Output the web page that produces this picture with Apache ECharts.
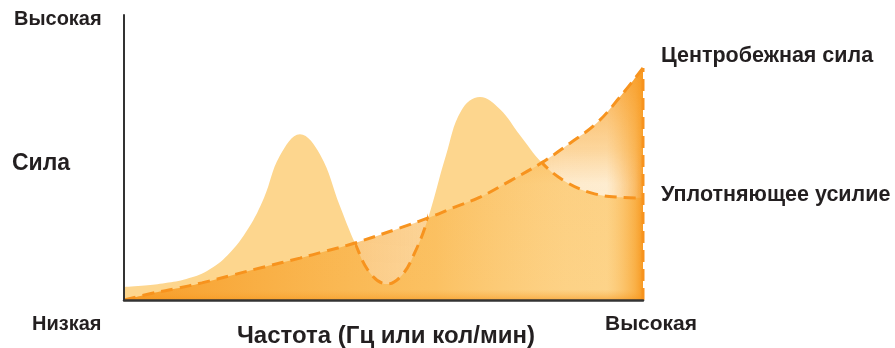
<!DOCTYPE html>
<html>
<head>
<meta charset="utf-8">
<script src="https://cdn.jsdelivr.net/npm/echarts@6/dist/echarts.min.js"></script>
<style>
  html, body { margin: 0; padding: 0; background: #fff; }
  #chart { width: 895px; height: 348px; }
</style>
</head>
<body>
<div id="chart"></div>
<script>
// Frequency (relative units, low -> high) and force (relative units, low -> high)
const centrifugalForce = [
  [0, 0], [5, 2.2], [10, 4], [15, 6], [21, 8.8], [27, 11.6], [33.9, 14.7],
  [39, 17.2], [44.5, 20], [53.2, 25.3], [58.6, 28.8], [63.6, 32.5],
  [68.6, 36.1], [74.5, 41.9], [80.5, 48.2], [86, 55.1], [91.1, 62.1],
  [95.5, 71.1], [100, 81.4]
];
const sealingForce = [
  [0, 4.6], [4, 5.1], [8, 6], [12, 7.4], [16, 10.2], [20, 15.8], [24, 25.3],
  [27, 36], [30, 50.5], [33.9, 58.2], [37.8, 51], [41.6, 33], [44.5, 20],
  [47.4, 9.5], [50.7, 5.6], [53.5, 8.6], [56, 16.5], [58.6, 28.8],
  [62, 50.5], [65, 66.5], [68.6, 71.2], [72.4, 67], [76.3, 57.8],
  [80.5, 48.2], [85, 41.6], [90, 37.6], [95, 36.1], [100, 35.8]
];
// Frequency spans where the sealing force lies under the centrifugal force
const sealingBelowSpans = [[44.5, 58.6], [80.5, 100]];

const xTickLabels = ['Низкая', 'Высокая'];
const yTickLabels = ['Высокая'];
const xAxisTitle = 'Частота (Гц или кол/мин)';
const yAxisTitle = 'Сила';
const seriesNames = ['Центробежная сила', 'Уплотняющее усилие'];

const ORANGE = '#F7931E';
const FONT = '"Liberation Sans", Arial, Helvetica, sans-serif';
const SMOOTH = 0.4;
const lastCentrifugal = centrifugalForce[centrifugalForce.length - 1];

const chart = echarts.init(document.getElementById('chart'), null, { renderer: 'canvas' });

function txt(text, x, y, size) {
  return {
    type: 'text', left: x, top: y - size / 2 - 1,
    style: { text: text, font: 'bold ' + size + 'px ' + FONT, fill: '#231F20' }
  };
}

const dashed = { type: [12, 7], width: 3 };

chart.setOption({
  animation: false,
  grid: { left: 124, right: 252, top: 15, bottom: 48 },
  xAxis: {
    type: 'value', min: 0, max: 100, z: 10,
    axisLine: { show: true, lineStyle: { color: '#333', width: 2.5 } },
    axisTick: { show: false }, axisLabel: { show: false }, splitLine: { show: false }
  },
  yAxis: {
    type: 'value', min: 0, max: 100, z: 10,
    axisLine: { show: true, lineStyle: { color: '#333', width: 2 } },
    axisTick: { show: false }, axisLabel: { show: false }, splitLine: { show: false }
  },
  visualMap: {
    type: 'piecewise', show: false, seriesIndex: 3, dimension: 0,
    pieces: sealingBelowSpans.map(s => ({ gte: s[0], lte: s[1], color: ORANGE })),
    outOfRange: { color: 'rgba(247,147,30,0)' }
  },
  series: [
    {
      name: seriesNames[1], type: 'line', data: sealingForce, smooth: SMOOTH,
      showSymbol: false, silent: true, z: 1,
      lineStyle: { width: 0 },
      areaStyle: { color: '#FDD68E', opacity: 1 }
    },
    {
      name: seriesNames[0], type: 'line', data: centrifugalForce, smooth: SMOOTH,
      showSymbol: false, silent: true, z: 2,
      lineStyle: { width: 0 },
      areaStyle: {
        opacity: 1,
        color: new echarts.graphic.LinearGradient(0, 0, 1, 0, [
          { offset: 0, color: 'rgba(246,146,22,0.85)' },
          { offset: 0.3, color: 'rgba(247,158,35,0.65)' },
          { offset: 0.6, color: 'rgba(249,172,55,0.5)' },
          { offset: 0.85, color: 'rgba(252,200,115,0.3)' },
          { offset: 0.93, color: 'rgba(252,205,125,0.3)' },
          { offset: 0.985, color: 'rgba(248,160,40,0.7)' },
          { offset: 1, color: 'rgba(246,146,22,0.9)' }
        ])
      }
    },
    {
      name: seriesNames[0], type: 'line', data: centrifugalForce, smooth: SMOOTH,
      showSymbol: false, silent: true, z: 2,
      lineStyle: { width: 0 },
      areaStyle: {
        opacity: 1,
        color: new echarts.graphic.LinearGradient(0, 0, 0, 1, [
          { offset: 0, color: 'rgba(248,150,25,0.75)' },
          { offset: 0.35, color: 'rgba(249,165,45,0.35)' },
          { offset: 0.5, color: 'rgba(250,170,60,0.05)' },
          { offset: 0.955, color: 'rgba(250,170,60,0)' },
          { offset: 1, color: 'rgba(246,146,22,0.55)' }
        ])
      }
    },
    {
      name: seriesNames[1], type: 'line', data: sealingForce, smooth: SMOOTH,
      showSymbol: false, silent: true, z: 3,
      lineStyle: dashed
    },
    {
      name: seriesNames[0], type: 'line', data: centrifugalForce, smooth: SMOOTH,
      showSymbol: false, silent: true, z: 4,
      lineStyle: Object.assign({ color: ORANGE }, dashed)
    },
    {
      name: seriesNames[0], type: 'line',
      data: [[lastCentrifugal[0], 0], lastCentrifugal],
      showSymbol: false, silent: true, z: 4,
      lineStyle: Object.assign({ color: ORANGE }, dashed)
    }
  ],
  graphic: [
    txt(yTickLabels[0], 14, 20, 20),
    txt(yAxisTitle, 12, 165, 23),
    txt(xTickLabels[0], 32, 325, 20),
    txt(xTickLabels[1], 605, 325, 21),
    txt(xAxisTitle, 237, 337, 24),
    txt(seriesNames[0], 661, 57, 21.5),
    txt(seriesNames[1], 661, 196, 21.5)
  ]
});
</script>
</body>
</html>
